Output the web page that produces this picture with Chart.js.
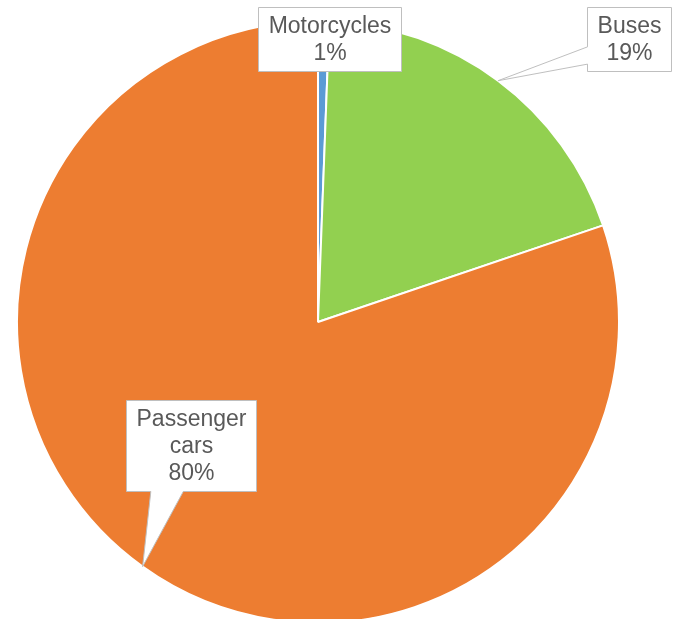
<!DOCTYPE html>
<html>
<head>
<meta charset="utf-8">
<script src="https://cdn.jsdelivr.net/npm/chart.js@4"></script>
<style>
  html, body { margin: 0; padding: 0; background: #ffffff; overflow: hidden; }
  #wrap { position: absolute; left: 0; top: 0; width: 678px; height: 624px; }
</style>
</head>
<body>
<div id="wrap"><canvas id="c"></canvas></div>
<script>
const categories = ["Motorcycles", "Buses", "Passenger cars"];
const labelLines = [["Motorcycles"], ["Buses"], ["Passenger", "cars"]];
const shares = [0.6, 19.2, 80.2];
const colors = ["#5B9BD5", "#92D050", "#ED7D31"];
// label box centres, as offsets from the pie centre
const boxOffsets = [[11, -283], [311, -283], [-127, 123]];

const total = shares.reduce((a, b) => a + b, 0);

const calloutPlugin = {
  id: 'callouts',
  afterDraw(chart) {
    const ctx = chart.ctx;
    const meta = chart.getDatasetMeta(0);
    ctx.save();
    ctx.font = '23px "Liberation Sans", Arial, sans-serif';
    const lineH = 27, padX = 10, padY = 5;
    meta.data.forEach((arc, i) => {
      const p = arc.getProps(['x', 'y', 'startAngle', 'endAngle', 'outerRadius'], true);
      const mid = (p.startAngle + p.endAngle) / 2;
      const tip = { x: p.x + Math.cos(mid) * p.outerRadius, y: p.y + Math.sin(mid) * p.outerRadius };
      const pct = Math.round(shares[i] / total * 100) + '%';
      const lines = labelLines[i].concat([pct]);
      let w = 0;
      lines.forEach(l => { w = Math.max(w, ctx.measureText(l).width); });
      w += padX * 2;
      const h = lines.length * lineH + padY * 2;
      const cx = p.x + boxOffsets[i][0], cy = p.y + boxOffsets[i][1];
      const L = Math.round(cx - w / 2) + 0.5, T = Math.round(cy - h / 2) + 0.5;
      const R = L + Math.round(w), B = T + Math.round(h);
      ctx.beginPath();
      const inside = tip.x >= L && tip.x <= R && tip.y >= T && tip.y <= B;
      let side = null;
      if (!inside) {
        const out = {
          bottom: tip.y - B, top: T - tip.y, left: L - tip.x, right: tip.x - R
        };
        side = Object.keys(out).reduce((a, b) => out[a] >= out[b] ? a : b);
      }
      const clamp = (v, a, b) => Math.max(a, Math.min(b, v));
      ctx.moveTo(L, T);
      if (side === 'top') {
        const len = R - L, hw = len * 0.125;
        const c = clamp((clamp(tip.x, L, R) + (L + R) / 2) / 2, L + hw, R - hw);
        ctx.lineTo(c - hw, T); ctx.lineTo(tip.x, tip.y); ctx.lineTo(c + hw, T);
      }
      ctx.lineTo(R, T);
      if (side === 'right') {
        const len = B - T, hw = len * 0.135;
        const c = clamp((clamp(tip.y, T, B) + (T + B) / 2) / 2, T + hw, B - hw);
        ctx.lineTo(R, c - hw); ctx.lineTo(tip.x, tip.y); ctx.lineTo(R, c + hw);
      }
      ctx.lineTo(R, B);
      if (side === 'bottom') {
        const len = R - L, hw = len * 0.125;
        const c = clamp((clamp(tip.x, L, R) + (L + R) / 2) / 2, L + hw, R - hw);
        ctx.lineTo(c + hw, B); ctx.lineTo(tip.x, tip.y); ctx.lineTo(c - hw, B);
      }
      ctx.lineTo(L, B);
      if (side === 'left') {
        const len = B - T, hw = len * 0.135;
        const c = clamp((clamp(tip.y, T, B) + (T + B) / 2) / 2, T + hw, B - hw);
        ctx.lineTo(L, c + hw); ctx.lineTo(tip.x, tip.y); ctx.lineTo(L, c - hw);
      }
      ctx.closePath();
      ctx.fillStyle = '#ffffff';
      ctx.fill();
      ctx.strokeStyle = '#BFBFBF';
      ctx.lineWidth = 1;
      ctx.stroke();
      ctx.fillStyle = '#595959';
      ctx.textAlign = 'center';
      ctx.textBaseline = 'middle';
      const startY = (T + B) / 2 - (lines.length - 1) * lineH / 2;
      lines.forEach((l, k) => ctx.fillText(l, (L + R) / 2, startY + k * lineH + 1));
    });
    ctx.restore();
  }
};

new Chart(document.getElementById('c'), {
  type: 'pie',
  data: {
    labels: categories,
    datasets: [{
      data: shares,
      backgroundColor: colors,
      borderColor: '#ffffff',
      borderWidth: 2
    }]
  },
  options: {
    responsive: true,
    maintainAspectRatio: false,
    animation: false,
    layout: { padding: { left: 16, right: 58, top: 20, bottom: 0 } },
    plugins: {
      legend: { display: false },
      tooltip: { enabled: false }
    }
  },
  plugins: [calloutPlugin]
});
</script>
</body>
</html>
